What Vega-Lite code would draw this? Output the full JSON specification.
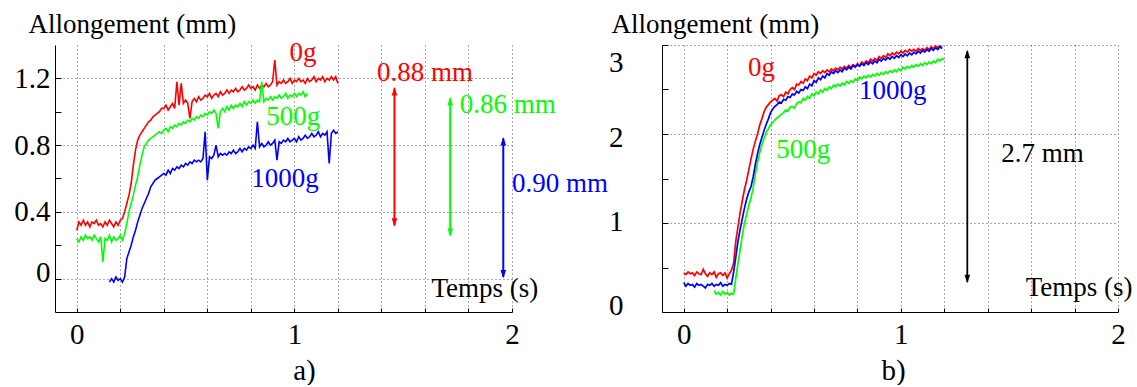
{
  "$schema": "https://vega.github.io/schema/vega-lite/v6.json",
  "autosize": {"type": "pad"},
  "padding": {"left": 13, "top": 10, "right": 0, "bottom": 0},
  "bounds": "flush",
  "spacing": 150,
  "resolve": {"scale": {"x": "independent", "y": "independent"}},
  "config": {
    "font": "Liberation Serif",
    "view": {"stroke": null},
    "axis": {
      "domainColor": "#000", "domainWidth": 1, "tickColor": "#000", "labelColor": "#000",
      "labelFont": "Liberation Serif", "labelFontSize": 29, "gridColor": "#555", "gridDash": [1, 3],
      "titleFont": "Liberation Serif", "titleFontWeight": "normal", "titleColor": "#000",
      "labelFlush": false, "labelOverlap": false, "labelBound": false
    },
    "text": {"font": "Liberation Serif", "fontSize": 27}
  },
  "datasets": {
    "ca": [
      {"s":"0g","t":0.00,"v":0.29},{"s":"0g","t":0.01,"v":0.34},{"s":"0g","t":0.02,"v":0.32},{"s":"0g","t":0.03,"v":0.35},{"s":"0g","t":0.04,"v":0.32},{"s":"0g","t":0.05,"v":0.34},{"s":"0g","t":0.06,"v":0.31},{"s":"0g","t":0.07,"v":0.34},{"s":"0g","t":0.08,"v":0.33},{"s":"0g","t":0.09,"v":0.35},{"s":"0g","t":0.10,"v":0.32},{"s":"0g","t":0.11,"v":0.33},{"s":"0g","t":0.12,"v":0.31},{"s":"0g","t":0.13,"v":0.34},{"s":"0g","t":0.14,"v":0.32},{"s":"0g","t":0.15,"v":0.35},{"s":"0g","t":0.16,"v":0.33},{"s":"0g","t":0.17,"v":0.31},{"s":"0g","t":0.18,"v":0.34},{"s":"0g","t":0.19,"v":0.32},{"s":"0g","t":0.20,"v":0.35},
      {"s":"0g","t":0.21,"v":0.36},{"s":"0g","t":0.22,"v":0.40},{"s":"0g","t":0.23,"v":0.45},{"s":"0g","t":0.24,"v":0.50},{"s":"0g","t":0.25,"v":0.57},{"s":"0g","t":0.26,"v":0.68},{"s":"0g","t":0.27,"v":0.77},{"s":"0g","t":0.28,"v":0.83},{"s":"0g","t":0.29,"v":0.86},{"s":"0g","t":0.30,"v":0.88},{"s":"0g","t":0.31,"v":0.90},{"s":"0g","t":0.32,"v":0.92},{"s":"0g","t":0.33,"v":0.94},{"s":"0g","t":0.34,"v":0.95},{"s":"0g","t":0.35,"v":0.97},{"s":"0g","t":0.36,"v":0.98},{"s":"0g","t":0.37,"v":0.99},{"s":"0g","t":0.38,"v":1.00},{"s":"0g","t":0.39,"v":1.02},{"s":"0g","t":0.40,"v":1.02},
      {"s":"0g","t":0.41,"v":1.04},{"s":"0g","t":0.42,"v":1.01},{"s":"0g","t":0.43,"v":1.03},{"s":"0g","t":0.44,"v":1.05},{"s":"0g","t":0.45,"v":1.02},{"s":"0g","t":0.46,"v":1.18},{"s":"0g","t":0.47,"v":1.04},{"s":"0g","t":0.48,"v":1.17},{"s":"0g","t":0.49,"v":1.05},{"s":"0g","t":0.50,"v":1.07},{"s":"0g","t":0.51,"v":1.05},{"s":"0g","t":0.52,"v":0.96},{"s":"0g","t":0.53,"v":1.06},{"s":"0g","t":0.54,"v":1.08},{"s":"0g","t":0.55,"v":1.06},{"s":"0g","t":0.56,"v":1.09},{"s":"0g","t":0.57,"v":1.07},{"s":"0g","t":0.58,"v":1.08},{"s":"0g","t":0.59,"v":1.10},{"s":"0g","t":0.60,"v":1.09},
      {"s":"0g","t":0.61,"v":1.11},{"s":"0g","t":0.62,"v":1.08},{"s":"0g","t":0.63,"v":1.10},{"s":"0g","t":0.64,"v":1.11},{"s":"0g","t":0.65,"v":1.09},{"s":"0g","t":0.66,"v":1.12},{"s":"0g","t":0.67,"v":1.10},{"s":"0g","t":0.68,"v":1.11},{"s":"0g","t":0.69,"v":1.13},{"s":"0g","t":0.70,"v":1.11},{"s":"0g","t":0.71,"v":1.13},{"s":"0g","t":0.72,"v":1.12},{"s":"0g","t":0.73,"v":1.14},{"s":"0g","t":0.74,"v":1.12},{"s":"0g","t":0.75,"v":1.13},{"s":"0g","t":0.76,"v":1.15},{"s":"0g","t":0.77,"v":1.13},{"s":"0g","t":0.78,"v":1.14},{"s":"0g","t":0.79,"v":1.16},{"s":"0g","t":0.80,"v":1.14},
      {"s":"0g","t":0.81,"v":1.15},{"s":"0g","t":0.82,"v":1.13},{"s":"0g","t":0.83,"v":1.16},{"s":"0g","t":0.84,"v":1.14},{"s":"0g","t":0.85,"v":1.16},{"s":"0g","t":0.86,"v":1.15},{"s":"0g","t":0.87,"v":1.17},{"s":"0g","t":0.88,"v":1.15},{"s":"0g","t":0.89,"v":1.16},{"s":"0g","t":0.90,"v":1.18},{"s":"0g","t":0.91,"v":1.31},{"s":"0g","t":0.92,"v":1.16},{"s":"0g","t":0.93,"v":1.18},{"s":"0g","t":0.94,"v":1.17},{"s":"0g","t":0.95,"v":1.19},{"s":"0g","t":0.96,"v":1.17},{"s":"0g","t":0.97,"v":1.18},{"s":"0g","t":0.98,"v":1.20},{"s":"0g","t":0.99,"v":1.17},{"s":"0g","t":1.00,"v":1.19},
      {"s":"0g","t":1.01,"v":1.18},{"s":"0g","t":1.02,"v":1.20},{"s":"0g","t":1.03,"v":1.18},{"s":"0g","t":1.04,"v":1.19},{"s":"0g","t":1.05,"v":1.17},{"s":"0g","t":1.06,"v":1.20},{"s":"0g","t":1.07,"v":1.18},{"s":"0g","t":1.08,"v":1.19},{"s":"0g","t":1.09,"v":1.21},{"s":"0g","t":1.10,"v":1.18},{"s":"0g","t":1.11,"v":1.20},{"s":"0g","t":1.12,"v":1.19},{"s":"0g","t":1.13,"v":1.21},{"s":"0g","t":1.14,"v":1.18},{"s":"0g","t":1.15,"v":1.20},{"s":"0g","t":1.16,"v":1.19},{"s":"0g","t":1.17,"v":1.21},{"s":"0g","t":1.18,"v":1.19},{"s":"0g","t":1.19,"v":1.21},{"s":"0g","t":1.20,"v":1.17},

      {"s":"500g","t":0.00,"v":0.24},{"s":"500g","t":0.01,"v":0.22},{"s":"500g","t":0.02,"v":0.25},{"s":"500g","t":0.03,"v":0.23},{"s":"500g","t":0.04,"v":0.26},{"s":"500g","t":0.05,"v":0.24},{"s":"500g","t":0.06,"v":0.25},{"s":"500g","t":0.07,"v":0.23},{"s":"500g","t":0.08,"v":0.26},{"s":"500g","t":0.09,"v":0.24},{"s":"500g","t":0.10,"v":0.22},{"s":"500g","t":0.11,"v":0.25},{"s":"500g","t":0.12,"v":0.10},{"s":"500g","t":0.13,"v":0.24},{"s":"500g","t":0.14,"v":0.23},{"s":"500g","t":0.15,"v":0.26},{"s":"500g","t":0.16,"v":0.22},{"s":"500g","t":0.17,"v":0.25},{"s":"500g","t":0.18,"v":0.23},{"s":"500g","t":0.19,"v":0.24},{"s":"500g","t":0.20,"v":0.26},
      {"s":"500g","t":0.21,"v":0.23},{"s":"500g","t":0.22,"v":0.27},{"s":"500g","t":0.23,"v":0.33},{"s":"500g","t":0.24,"v":0.40},{"s":"500g","t":0.25,"v":0.45},{"s":"500g","t":0.26,"v":0.50},{"s":"500g","t":0.27,"v":0.56},{"s":"500g","t":0.28,"v":0.61},{"s":"500g","t":0.29,"v":0.68},{"s":"500g","t":0.30,"v":0.74},{"s":"500g","t":0.31,"v":0.79},{"s":"500g","t":0.32,"v":0.81},{"s":"500g","t":0.33,"v":0.83},{"s":"500g","t":0.34,"v":0.84},{"s":"500g","t":0.35,"v":0.85},{"s":"500g","t":0.36,"v":0.86},{"s":"500g","t":0.37,"v":0.87},{"s":"500g","t":0.38,"v":0.88},{"s":"500g","t":0.39,"v":0.87},{"s":"500g","t":0.40,"v":0.89},
      {"s":"500g","t":0.41,"v":0.90},{"s":"500g","t":0.42,"v":0.88},{"s":"500g","t":0.43,"v":0.91},{"s":"500g","t":0.44,"v":0.90},{"s":"500g","t":0.45,"v":0.92},{"s":"500g","t":0.46,"v":0.91},{"s":"500g","t":0.47,"v":0.93},{"s":"500g","t":0.48,"v":0.92},{"s":"500g","t":0.49,"v":0.94},{"s":"500g","t":0.50,"v":0.93},{"s":"500g","t":0.51,"v":0.95},{"s":"500g","t":0.52,"v":0.94},{"s":"500g","t":0.53,"v":0.96},{"s":"500g","t":0.54,"v":0.95},{"s":"500g","t":0.55,"v":0.97},{"s":"500g","t":0.56,"v":0.96},{"s":"500g","t":0.57,"v":0.98},{"s":"500g","t":0.58,"v":0.97},{"s":"500g","t":0.59,"v":0.99},{"s":"500g","t":0.60,"v":0.98},
      {"s":"500g","t":0.61,"v":1.00},{"s":"500g","t":0.62,"v":0.99},{"s":"500g","t":0.63,"v":1.01},{"s":"500g","t":0.64,"v":0.99},{"s":"500g","t":0.65,"v":0.90},{"s":"500g","t":0.66,"v":1.00},{"s":"500g","t":0.67,"v":1.02},{"s":"500g","t":0.68,"v":1.00},{"s":"500g","t":0.69,"v":1.03},{"s":"500g","t":0.70,"v":1.01},{"s":"500g","t":0.71,"v":1.04},{"s":"500g","t":0.72,"v":1.02},{"s":"500g","t":0.73,"v":1.04},{"s":"500g","t":0.74,"v":1.03},{"s":"500g","t":0.75,"v":1.05},{"s":"500g","t":0.76,"v":1.03},{"s":"500g","t":0.77,"v":1.06},{"s":"500g","t":0.78,"v":1.04},{"s":"500g","t":0.79,"v":1.06},{"s":"500g","t":0.80,"v":1.05},
      {"s":"500g","t":0.81,"v":1.07},{"s":"500g","t":0.82,"v":1.05},{"s":"500g","t":0.83,"v":1.07},{"s":"500g","t":0.84,"v":1.06},{"s":"500g","t":0.85,"v":1.18},{"s":"500g","t":0.86,"v":1.06},{"s":"500g","t":0.87,"v":1.08},{"s":"500g","t":0.88,"v":1.07},{"s":"500g","t":0.89,"v":1.09},{"s":"500g","t":0.90,"v":1.07},{"s":"500g","t":0.91,"v":1.09},{"s":"500g","t":0.92,"v":1.08},{"s":"500g","t":0.93,"v":1.10},{"s":"500g","t":0.94,"v":1.08},{"s":"500g","t":0.95,"v":1.09},{"s":"500g","t":0.96,"v":1.11},{"s":"500g","t":0.97,"v":1.08},{"s":"500g","t":0.98,"v":1.10},{"s":"500g","t":0.99,"v":1.09},{"s":"500g","t":1.00,"v":1.11},
      {"s":"500g","t":1.01,"v":1.09},{"s":"500g","t":1.02,"v":1.11},{"s":"500g","t":1.03,"v":1.10},{"s":"500g","t":1.04,"v":1.12},{"s":"500g","t":1.05,"v":1.09},{"s":"500g","t":1.06,"v":1.11},

      {"s":"1000g","t":0.15,"v":-0.02},{"s":"1000g","t":0.16,"v":0.00},{"s":"1000g","t":0.17,"v":-0.02},{"s":"1000g","t":0.18,"v":0.01},{"s":"1000g","t":0.19,"v":-0.01},{"s":"1000g","t":0.20,"v":0.00},{"s":"1000g","t":0.21,"v":-0.02},{"s":"1000g","t":0.22,"v":0.01},{"s":"1000g","t":0.23,"v":0.12},{"s":"1000g","t":0.24,"v":0.16},{"s":"1000g","t":0.25,"v":0.20},{"s":"1000g","t":0.26,"v":0.25},{"s":"1000g","t":0.27,"v":0.29},{"s":"1000g","t":0.28,"v":0.34},{"s":"1000g","t":0.29,"v":0.38},{"s":"1000g","t":0.30,"v":0.42},{"s":"1000g","t":0.31,"v":0.45},{"s":"1000g","t":0.32,"v":0.48},{"s":"1000g","t":0.33,"v":0.51},{"s":"1000g","t":0.34,"v":0.55},{"s":"1000g","t":0.35,"v":0.57},{"s":"1000g","t":0.36,"v":0.59},{"s":"1000g","t":0.37,"v":0.60},{"s":"1000g","t":0.38,"v":0.61},{"s":"1000g","t":0.39,"v":0.62},{"s":"1000g","t":0.40,"v":0.63},
      {"s":"1000g","t":0.41,"v":0.62},{"s":"1000g","t":0.42,"v":0.65},{"s":"1000g","t":0.43,"v":0.63},{"s":"1000g","t":0.44,"v":0.66},{"s":"1000g","t":0.45,"v":0.65},{"s":"1000g","t":0.46,"v":0.67},{"s":"1000g","t":0.47,"v":0.66},{"s":"1000g","t":0.48,"v":0.68},{"s":"1000g","t":0.49,"v":0.67},{"s":"1000g","t":0.50,"v":0.69},{"s":"1000g","t":0.51,"v":0.68},{"s":"1000g","t":0.52,"v":0.70},{"s":"1000g","t":0.53,"v":0.69},{"s":"1000g","t":0.54,"v":0.71},{"s":"1000g","t":0.55,"v":0.70},{"s":"1000g","t":0.56,"v":0.71},{"s":"1000g","t":0.57,"v":0.70},{"s":"1000g","t":0.58,"v":0.72},{"s":"1000g","t":0.59,"v":0.88},{"s":"1000g","t":0.60,"v":0.59},
      {"s":"1000g","t":0.61,"v":0.73},{"s":"1000g","t":0.62,"v":0.72},{"s":"1000g","t":0.63,"v":0.74},{"s":"1000g","t":0.64,"v":0.80},{"s":"1000g","t":0.65,"v":0.73},{"s":"1000g","t":0.66,"v":0.75},{"s":"1000g","t":0.67,"v":0.74},{"s":"1000g","t":0.68,"v":0.75},{"s":"1000g","t":0.69,"v":0.74},{"s":"1000g","t":0.70,"v":0.76},{"s":"1000g","t":0.71,"v":0.75},{"s":"1000g","t":0.72,"v":0.77},{"s":"1000g","t":0.73,"v":0.75},{"s":"1000g","t":0.74,"v":0.76},{"s":"1000g","t":0.75,"v":0.78},{"s":"1000g","t":0.76,"v":0.76},{"s":"1000g","t":0.77,"v":0.78},{"s":"1000g","t":0.78,"v":0.77},{"s":"1000g","t":0.79,"v":0.79},{"s":"1000g","t":0.80,"v":0.78},
      {"s":"1000g","t":0.81,"v":0.80},{"s":"1000g","t":0.82,"v":0.78},{"s":"1000g","t":0.83,"v":0.94},{"s":"1000g","t":0.84,"v":0.79},{"s":"1000g","t":0.85,"v":0.81},{"s":"1000g","t":0.86,"v":0.79},{"s":"1000g","t":0.87,"v":0.80},{"s":"1000g","t":0.88,"v":0.82},{"s":"1000g","t":0.89,"v":0.80},{"s":"1000g","t":0.90,"v":0.81},{"s":"1000g","t":0.91,"v":0.83},{"s":"1000g","t":0.92,"v":0.71},{"s":"1000g","t":0.93,"v":0.82},{"s":"1000g","t":0.94,"v":0.81},{"s":"1000g","t":0.95,"v":0.83},{"s":"1000g","t":0.96,"v":0.82},{"s":"1000g","t":0.97,"v":0.84},{"s":"1000g","t":0.98,"v":0.82},{"s":"1000g","t":0.99,"v":0.83},{"s":"1000g","t":1.00,"v":0.84},
      {"s":"1000g","t":1.01,"v":0.82},{"s":"1000g","t":1.02,"v":0.85},{"s":"1000g","t":1.03,"v":0.83},{"s":"1000g","t":1.04,"v":0.84},{"s":"1000g","t":1.05,"v":0.86},{"s":"1000g","t":1.06,"v":0.84},{"s":"1000g","t":1.07,"v":0.85},{"s":"1000g","t":1.08,"v":0.87},{"s":"1000g","t":1.09,"v":0.85},{"s":"1000g","t":1.10,"v":0.86},{"s":"1000g","t":1.11,"v":0.88},{"s":"1000g","t":1.12,"v":0.85},{"s":"1000g","t":1.13,"v":0.87},{"s":"1000g","t":1.14,"v":0.86},{"s":"1000g","t":1.15,"v":0.88},{"s":"1000g","t":1.16,"v":0.69},{"s":"1000g","t":1.17,"v":0.87},{"s":"1000g","t":1.18,"v":0.89},{"s":"1000g","t":1.19,"v":0.87},{"s":"1000g","t":1.20,"v":0.88}
    ],
    "la": [
      {"s":"0g","t":1.04,"v":1.35,"label":"0g"},
      {"s":"500g","t":0.995,"v":0.97,"label":"500g"},
      {"s":"1000g","t":0.957,"v":0.60,"label":"1000g"},
      {"s":"0g","t":1.60,"v":1.23,"label":"0.88 mm"},
      {"s":"500g","t":1.98,"v":1.04,"label":"0.86 mm"},
      {"s":"1000g","t":2.22,"v":0.57,"label":"0.90 mm"},
      {"s":"ref","t":1.875,"v":-0.06,"label":"Temps (s)"}
    ],
    "aa": [
      {"s":"0g","t":1.46,"top":1.14,"bot":0.32},
      {"s":"500g","t":1.716,"top":1.08,"bot":0.26},
      {"s":"1000g","t":1.96,"top":0.84,"bot":0.01}
    ],
    "cb": [
      {"s":"0g","t":0.00,"v":0.44},{"s":"0g","t":0.01,"v":0.42},{"s":"0g","t":0.02,"v":0.45},{"s":"0g","t":0.03,"v":0.43},{"s":"0g","t":0.04,"v":0.44},{"s":"0g","t":0.05,"v":0.41},{"s":"0g","t":0.06,"v":0.45},{"s":"0g","t":0.07,"v":0.43},{"s":"0g","t":0.08,"v":0.42},{"s":"0g","t":0.09,"v":0.48},{"s":"0g","t":0.10,"v":0.43},{"s":"0g","t":0.11,"v":0.40},{"s":"0g","t":0.12,"v":0.44},{"s":"0g","t":0.13,"v":0.42},{"s":"0g","t":0.14,"v":0.45},{"s":"0g","t":0.15,"v":0.39},{"s":"0g","t":0.16,"v":0.43},{"s":"0g","t":0.17,"v":0.44},{"s":"0g","t":0.18,"v":0.41},{"s":"0g","t":0.19,"v":0.44},{"s":"0g","t":0.20,"v":0.38},{"s":"0g","t":0.21,"v":0.43},
      {"s":"0g","t":0.22,"v":0.47},{"s":"0g","t":0.23,"v":0.55},{"s":"0g","t":0.24,"v":0.80},{"s":"0g","t":0.25,"v":0.96},{"s":"0g","t":0.26,"v":1.12},{"s":"0g","t":0.27,"v":1.25},{"s":"0g","t":0.28,"v":1.38},{"s":"0g","t":0.29,"v":1.48},{"s":"0g","t":0.30,"v":1.60},{"s":"0g","t":0.31,"v":1.72},{"s":"0g","t":0.32,"v":1.83},{"s":"0g","t":0.33,"v":1.92},{"s":"0g","t":0.34,"v":2.00},{"s":"0g","t":0.35,"v":2.10},{"s":"0g","t":0.36,"v":2.17},{"s":"0g","t":0.37,"v":2.25},{"s":"0g","t":0.38,"v":2.30},{"s":"0g","t":0.39,"v":2.33},{"s":"0g","t":0.40,"v":2.36},
      {"s":"0g","t":0.41,"v":2.38},{"s":"0g","t":0.42,"v":2.40},{"s":"0g","t":0.43,"v":2.37},{"s":"0g","t":0.44,"v":2.43},{"s":"0g","t":0.45,"v":2.44},{"s":"0g","t":0.46,"v":2.42},{"s":"0g","t":0.47,"v":2.47},{"s":"0g","t":0.48,"v":2.45},{"s":"0g","t":0.49,"v":2.50},{"s":"0g","t":0.50,"v":2.52},{"s":"0g","t":0.51,"v":2.50},{"s":"0g","t":0.52,"v":2.56},{"s":"0g","t":0.53,"v":2.55},{"s":"0g","t":0.54,"v":2.59},{"s":"0g","t":0.55,"v":2.57},{"s":"0g","t":0.56,"v":2.62},{"s":"0g","t":0.57,"v":2.60},{"s":"0g","t":0.58,"v":2.65},{"s":"0g","t":0.59,"v":2.63},{"s":"0g","t":0.60,"v":2.68},
      {"s":"0g","t":0.61,"v":2.66},{"s":"0g","t":0.62,"v":2.70},{"s":"0g","t":0.63,"v":2.68},{"s":"0g","t":0.64,"v":2.71},{"s":"0g","t":0.65,"v":2.69},{"s":"0g","t":0.66,"v":2.72},{"s":"0g","t":0.67,"v":2.70},{"s":"0g","t":0.68,"v":2.73},{"s":"0g","t":0.69,"v":2.71},{"s":"0g","t":0.70,"v":2.74},{"s":"0g","t":0.71,"v":2.72},{"s":"0g","t":0.72,"v":2.75},{"s":"0g","t":0.73,"v":2.73},{"s":"0g","t":0.74,"v":2.76},{"s":"0g","t":0.75,"v":2.74},{"s":"0g","t":0.76,"v":2.77},{"s":"0g","t":0.77,"v":2.75},{"s":"0g","t":0.78,"v":2.78},{"s":"0g","t":0.79,"v":2.76},{"s":"0g","t":0.80,"v":2.79},
      {"s":"0g","t":0.81,"v":2.77},{"s":"0g","t":0.82,"v":2.81},{"s":"0g","t":0.83,"v":2.79},{"s":"0g","t":0.84,"v":2.82},{"s":"0g","t":0.85,"v":2.80},{"s":"0g","t":0.86,"v":2.84},{"s":"0g","t":0.87,"v":2.82},{"s":"0g","t":0.88,"v":2.85},{"s":"0g","t":0.89,"v":2.83},{"s":"0g","t":0.90,"v":2.87},{"s":"0g","t":0.91,"v":2.85},{"s":"0g","t":0.92,"v":2.88},{"s":"0g","t":0.93,"v":2.86},{"s":"0g","t":0.94,"v":2.90},{"s":"0g","t":0.95,"v":2.88},{"s":"0g","t":0.96,"v":2.91},{"s":"0g","t":0.97,"v":2.89},{"s":"0g","t":0.98,"v":2.92},{"s":"0g","t":0.99,"v":2.90},{"s":"0g","t":1.00,"v":2.93},
      {"s":"0g","t":1.01,"v":2.91},{"s":"0g","t":1.02,"v":2.94},{"s":"0g","t":1.03,"v":2.92},{"s":"0g","t":1.04,"v":2.95},{"s":"0g","t":1.05,"v":2.93},{"s":"0g","t":1.06,"v":2.95},{"s":"0g","t":1.07,"v":2.93},{"s":"0g","t":1.08,"v":2.96},{"s":"0g","t":1.09,"v":2.94},{"s":"0g","t":1.10,"v":2.96},{"s":"0g","t":1.11,"v":2.94},{"s":"0g","t":1.12,"v":2.97},{"s":"0g","t":1.13,"v":2.95},{"s":"0g","t":1.14,"v":2.98},{"s":"0g","t":1.15,"v":2.96},{"s":"0g","t":1.16,"v":2.99},{"s":"0g","t":1.17,"v":2.97},{"s":"0g","t":1.18,"v":2.99},{"s":"0g","t":1.19,"v":2.97},

      {"s":"500g","t":0.14,"v":0.24},{"s":"500g","t":0.15,"v":0.20},{"s":"500g","t":0.16,"v":0.22},{"s":"500g","t":0.17,"v":0.19},{"s":"500g","t":0.18,"v":0.23},{"s":"500g","t":0.19,"v":0.20},{"s":"500g","t":0.20,"v":0.22},{"s":"500g","t":0.21,"v":0.19},{"s":"500g","t":0.22,"v":0.21},{"s":"500g","t":0.23,"v":0.20},{"s":"500g","t":0.24,"v":0.38},{"s":"500g","t":0.25,"v":0.55},{"s":"500g","t":0.26,"v":0.70},{"s":"500g","t":0.27,"v":0.86},{"s":"500g","t":0.28,"v":1.00},{"s":"500g","t":0.29,"v":1.10},{"s":"500g","t":0.30,"v":1.20},{"s":"500g","t":0.31,"v":1.28},{"s":"500g","t":0.32,"v":1.40},{"s":"500g","t":0.33,"v":1.55},{"s":"500g","t":0.34,"v":1.68},{"s":"500g","t":0.35,"v":1.79},{"s":"500g","t":0.36,"v":1.88},{"s":"500g","t":0.37,"v":1.95},{"s":"500g","t":0.38,"v":2.02},{"s":"500g","t":0.39,"v":2.06},{"s":"500g","t":0.40,"v":2.10},{"s":"500g","t":0.41,"v":2.13},{"s":"500g","t":0.42,"v":2.16},{"s":"500g","t":0.43,"v":2.18},{"s":"500g","t":0.44,"v":2.20},{"s":"500g","t":0.45,"v":2.22},
      {"s":"500g","t":0.46,"v":2.24},{"s":"500g","t":0.47,"v":2.27},{"s":"500g","t":0.48,"v":2.26},{"s":"500g","t":0.49,"v":2.30},{"s":"500g","t":0.50,"v":2.31},{"s":"500g","t":0.51,"v":2.29},{"s":"500g","t":0.52,"v":2.34},{"s":"500g","t":0.53,"v":2.36},{"s":"500g","t":0.54,"v":2.35},{"s":"500g","t":0.55,"v":2.40},{"s":"500g","t":0.56,"v":2.38},{"s":"500g","t":0.57,"v":2.42},{"s":"500g","t":0.58,"v":2.40},{"s":"500g","t":0.59,"v":2.45},{"s":"500g","t":0.60,"v":2.43},{"s":"500g","t":0.61,"v":2.47},{"s":"500g","t":0.62,"v":2.45},{"s":"500g","t":0.63,"v":2.49},{"s":"500g","t":0.64,"v":2.47},{"s":"500g","t":0.65,"v":2.51},
      {"s":"500g","t":0.66,"v":2.49},{"s":"500g","t":0.67,"v":2.53},{"s":"500g","t":0.68,"v":2.51},{"s":"500g","t":0.69,"v":2.55},{"s":"500g","t":0.70,"v":2.53},{"s":"500g","t":0.71,"v":2.56},{"s":"500g","t":0.72,"v":2.54},{"s":"500g","t":0.73,"v":2.57},{"s":"500g","t":0.74,"v":2.55},{"s":"500g","t":0.75,"v":2.59},{"s":"500g","t":0.76,"v":2.57},{"s":"500g","t":0.77,"v":2.60},{"s":"500g","t":0.78,"v":2.58},{"s":"500g","t":0.79,"v":2.62},{"s":"500g","t":0.80,"v":2.60},{"s":"500g","t":0.81,"v":2.64},{"s":"500g","t":0.82,"v":2.62},{"s":"500g","t":0.83,"v":2.65},{"s":"500g","t":0.84,"v":2.63},{"s":"500g","t":0.85,"v":2.66},
      {"s":"500g","t":0.86,"v":2.64},{"s":"500g","t":0.87,"v":2.67},{"s":"500g","t":0.88,"v":2.65},{"s":"500g","t":0.89,"v":2.68},{"s":"500g","t":0.90,"v":2.66},{"s":"500g","t":0.91,"v":2.69},{"s":"500g","t":0.92,"v":2.67},{"s":"500g","t":0.93,"v":2.70},{"s":"500g","t":0.94,"v":2.68},{"s":"500g","t":0.95,"v":2.71},{"s":"500g","t":0.96,"v":2.69},{"s":"500g","t":0.97,"v":2.72},{"s":"500g","t":0.98,"v":2.70},{"s":"500g","t":0.99,"v":2.73},{"s":"500g","t":1.00,"v":2.71},{"s":"500g","t":1.01,"v":2.75},{"s":"500g","t":1.02,"v":2.73},{"s":"500g","t":1.03,"v":2.76},{"s":"500g","t":1.04,"v":2.74},{"s":"500g","t":1.05,"v":2.77},
      {"s":"500g","t":1.06,"v":2.75},{"s":"500g","t":1.07,"v":2.78},{"s":"500g","t":1.08,"v":2.76},{"s":"500g","t":1.09,"v":2.79},{"s":"500g","t":1.10,"v":2.77},{"s":"500g","t":1.11,"v":2.80},{"s":"500g","t":1.12,"v":2.78},{"s":"500g","t":1.13,"v":2.81},{"s":"500g","t":1.14,"v":2.79},{"s":"500g","t":1.15,"v":2.82},{"s":"500g","t":1.16,"v":2.80},{"s":"500g","t":1.17,"v":2.84},{"s":"500g","t":1.18,"v":2.82},{"s":"500g","t":1.19,"v":2.85},{"s":"500g","t":1.20,"v":2.83},

      {"s":"1000g","t":0.00,"v":0.33},{"s":"1000g","t":0.01,"v":0.29},{"s":"1000g","t":0.02,"v":0.32},{"s":"1000g","t":0.03,"v":0.30},{"s":"1000g","t":0.04,"v":0.31},{"s":"1000g","t":0.05,"v":0.28},{"s":"1000g","t":0.06,"v":0.32},{"s":"1000g","t":0.07,"v":0.30},{"s":"1000g","t":0.08,"v":0.31},{"s":"1000g","t":0.09,"v":0.29},{"s":"1000g","t":0.10,"v":0.27},{"s":"1000g","t":0.11,"v":0.31},{"s":"1000g","t":0.12,"v":0.30},{"s":"1000g","t":0.13,"v":0.32},{"s":"1000g","t":0.14,"v":0.29},{"s":"1000g","t":0.15,"v":0.31},{"s":"1000g","t":0.16,"v":0.30},{"s":"1000g","t":0.17,"v":0.33},{"s":"1000g","t":0.18,"v":0.29},{"s":"1000g","t":0.19,"v":0.31},{"s":"1000g","t":0.20,"v":0.30},{"s":"1000g","t":0.21,"v":0.32},{"s":"1000g","t":0.22,"v":0.31},
      {"s":"1000g","t":0.23,"v":0.45},{"s":"1000g","t":0.24,"v":0.62},{"s":"1000g","t":0.25,"v":0.80},{"s":"1000g","t":0.26,"v":0.93},{"s":"1000g","t":0.27,"v":1.05},{"s":"1000g","t":0.28,"v":1.17},{"s":"1000g","t":0.29,"v":1.27},{"s":"1000g","t":0.30,"v":1.35},{"s":"1000g","t":0.31,"v":1.41},{"s":"1000g","t":0.32,"v":1.52},{"s":"1000g","t":0.33,"v":1.66},{"s":"1000g","t":0.34,"v":1.78},{"s":"1000g","t":0.35,"v":1.88},{"s":"1000g","t":0.36,"v":1.96},{"s":"1000g","t":0.37,"v":2.04},{"s":"1000g","t":0.38,"v":2.11},{"s":"1000g","t":0.39,"v":2.17},{"s":"1000g","t":0.40,"v":2.24},{"s":"1000g","t":0.41,"v":2.28},{"s":"1000g","t":0.42,"v":2.31},
      {"s":"1000g","t":0.43,"v":2.33},{"s":"1000g","t":0.44,"v":2.36},{"s":"1000g","t":0.45,"v":2.35},{"s":"1000g","t":0.46,"v":2.39},{"s":"1000g","t":0.47,"v":2.38},{"s":"1000g","t":0.48,"v":2.42},{"s":"1000g","t":0.49,"v":2.41},{"s":"1000g","t":0.50,"v":2.45},{"s":"1000g","t":0.51,"v":2.44},{"s":"1000g","t":0.52,"v":2.48},{"s":"1000g","t":0.53,"v":2.46},{"s":"1000g","t":0.54,"v":2.50},{"s":"1000g","t":0.55,"v":2.49},{"s":"1000g","t":0.56,"v":2.53},{"s":"1000g","t":0.57,"v":2.51},{"s":"1000g","t":0.58,"v":2.56},{"s":"1000g","t":0.59,"v":2.54},{"s":"1000g","t":0.60,"v":2.60},{"s":"1000g","t":0.61,"v":2.58},{"s":"1000g","t":0.62,"v":2.63},
      {"s":"1000g","t":0.63,"v":2.61},{"s":"1000g","t":0.64,"v":2.65},{"s":"1000g","t":0.65,"v":2.63},{"s":"1000g","t":0.66,"v":2.68},{"s":"1000g","t":0.67,"v":2.66},{"s":"1000g","t":0.68,"v":2.70},{"s":"1000g","t":0.69,"v":2.68},{"s":"1000g","t":0.70,"v":2.71},{"s":"1000g","t":0.71,"v":2.69},{"s":"1000g","t":0.72,"v":2.72},{"s":"1000g","t":0.73,"v":2.70},{"s":"1000g","t":0.74,"v":2.74},{"s":"1000g","t":0.75,"v":2.72},{"s":"1000g","t":0.76,"v":2.75},{"s":"1000g","t":0.77,"v":2.73},{"s":"1000g","t":0.78,"v":2.77},{"s":"1000g","t":0.79,"v":2.75},{"s":"1000g","t":0.80,"v":2.78},{"s":"1000g","t":0.81,"v":2.76},{"s":"1000g","t":0.82,"v":2.79},
      {"s":"1000g","t":0.83,"v":2.77},{"s":"1000g","t":0.84,"v":2.80},{"s":"1000g","t":0.85,"v":2.78},{"s":"1000g","t":0.86,"v":2.81},{"s":"1000g","t":0.87,"v":2.79},{"s":"1000g","t":0.88,"v":2.82},{"s":"1000g","t":0.89,"v":2.80},{"s":"1000g","t":0.90,"v":2.84},{"s":"1000g","t":0.91,"v":2.82},{"s":"1000g","t":0.92,"v":2.85},{"s":"1000g","t":0.93,"v":2.83},{"s":"1000g","t":0.94,"v":2.86},{"s":"1000g","t":0.95,"v":2.84},{"s":"1000g","t":0.96,"v":2.87},{"s":"1000g","t":0.97,"v":2.85},{"s":"1000g","t":0.98,"v":2.88},{"s":"1000g","t":0.99,"v":2.86},{"s":"1000g","t":1.00,"v":2.89},
      {"s":"1000g","t":1.01,"v":2.87},{"s":"1000g","t":1.02,"v":2.90},{"s":"1000g","t":1.03,"v":2.88},{"s":"1000g","t":1.04,"v":2.91},{"s":"1000g","t":1.05,"v":2.89},{"s":"1000g","t":1.06,"v":2.92},{"s":"1000g","t":1.07,"v":2.90},{"s":"1000g","t":1.08,"v":2.93},{"s":"1000g","t":1.09,"v":2.91},{"s":"1000g","t":1.10,"v":2.94},{"s":"1000g","t":1.11,"v":2.92},{"s":"1000g","t":1.12,"v":2.95},{"s":"1000g","t":1.13,"v":2.93},{"s":"1000g","t":1.14,"v":2.96},{"s":"1000g","t":1.15,"v":2.94},{"s":"1000g","t":1.16,"v":2.97},{"s":"1000g","t":1.17,"v":2.95},{"s":"1000g","t":1.18,"v":2.98},{"s":"1000g","t":1.19,"v":2.96}
    ],
    "lb": [
      {"s":"0g","t":0.358,"v":2.74,"label":"0g"},
      {"s":"1000g","t":0.963,"v":2.48,"label":"1000g"},
      {"s":"500g","t":0.55,"v":1.82,"label":"500g"},
      {"s":"ref","t":1.652,"v":1.78,"label":"2.7 mm"},
      {"s":"ref","t":1.821,"v":0.27,"label":"Temps (s)"}
    ],
    "ab": [
      {"s":"ref","t":1.306,"top":2.93,"bot":0.34}
    ]
  },
  "hconcat": [
    {
      "width": 457,
      "height": 267,
      "layer": [
        {
          "data": {"name": "ca"},
          "mark": {"type": "line", "strokeWidth": 1.6},
          "encoding": {
            "x": {"field": "t", "type": "quantitative",
              "scale": {"domain": [-0.1, 2], "nice": false, "zero": false},
              "axis": {"values": [0,0.2,0.4,0.6,0.8,1,1.2,1.4,1.6,1.8,2], "format": ".1~f",
                "labelExpr": "datum.value == 0 || datum.value == 1 || datum.value == 2 ? datum.label : ''",
                "labelFont": "Liberation Serif", "labelFontSize": 29,
                "tickSize": -4, "labelPadding": 12, "grid": true,
                "title": "a)", "titleFont": "Liberation Serif", "titleFontSize": 29, "titleX": 249, "titleY": 67, "titleBaseline": "alphabetic", "titleAlign": "center", "titleAnchor": null}},
            "y": {"field": "v", "type": "quantitative",
              "scale": {"domain": [-0.2, 1.4], "nice": false, "zero": false},
              "axis": {"values": [0,0.2,0.4,0.6,0.8,1,1.2], "format": ".1~f",
                "labelExpr": "abs(round(datum.value*10)) % 4 == 0 ? datum.label : ''",
                "labelFont": "Liberation Serif", "labelFontSize": 29,
                "gridOpacity": {"condition": {"test": "abs(round(datum.value*10)) % 4 == 0", "value": 1}, "value": 0},
                "labelOffset": {"condition": {"test": "datum.value == 0", "value": -6}, "value": 0},
                "tickSize": -6, "labelPadding": 11, "grid": true,
                "title": "Allongement (mm)", "titleFont": "Liberation Serif", "titleAngle": 0, "titleAlign": "left", "titleBaseline": "alphabetic",
                "titleX": -27, "titleY": -13, "titleFontSize": 27}},
            "color": {"field": "s", "type": "nominal",
              "scale": {"domain": ["0g","500g","1000g","ref"], "range": ["#ff0000","#00ff00","#0000ff","#000000"]},
              "legend": null}
          }
        },
        {
          "data": {"name": "aa"},
          "mark": {"type": "rule", "strokeWidth": 2},
          "encoding": {
            "x": {"field": "t", "type": "quantitative"},
            "y": {"field": "top", "type": "quantitative"},
            "y2": {"field": "bot"},
            "color": {"field": "s", "type": "nominal", "legend": null}
          }
        },
        {
          "data": {"name": "aa"},
          "mark": {"type": "point", "shape": "M0,-0.2L0.4,1L-0.4,1Z", "filled": true, "size": 196, "opacity": 1, "strokeWidth": 0},
          "encoding": {
            "x": {"field": "t", "type": "quantitative"},
            "y": {"field": "top", "type": "quantitative"},
            "color": {"field": "s", "type": "nominal", "legend": null}
          }
        },
        {
          "data": {"name": "aa"},
          "mark": {"type": "point", "shape": "M0,0.2L0.4,-1L-0.4,-1Z", "filled": true, "size": 196, "opacity": 1, "strokeWidth": 0},
          "encoding": {
            "x": {"field": "t", "type": "quantitative"},
            "y": {"field": "bot", "type": "quantitative"},
            "color": {"field": "s", "type": "nominal", "legend": null}
          }
        },
        {
          "data": {"name": "la"},
          "mark": {"type": "text", "align": "center", "baseline": "middle", "font": "Liberation Serif", "fontSize": 27},
          "encoding": {
            "x": {"field": "t", "type": "quantitative"},
            "y": {"field": "v", "type": "quantitative"},
            "text": {"field": "label"},
            "color": {"field": "s", "type": "nominal", "legend": null}
          }
        }
      ]
    },
    {
      "width": 456,
      "height": 267,
      "layer": [
        {
          "data": {"name": "cb"},
          "mark": {"type": "line", "strokeWidth": 1.7},
          "encoding": {
            "x": {"field": "t", "type": "quantitative",
              "scale": {"domain": [-0.1, 2], "nice": false, "zero": false},
              "axis": {"values": [0,0.2,0.4,0.6,0.8,1,1.2,1.4,1.6,1.8,2], "format": ".1~f",
                "labelExpr": "datum.value == 0 || datum.value == 1 || datum.value == 2 ? datum.label : ''",
                "labelFont": "Liberation Serif", "labelFontSize": 29,
                "tickSize": -4, "labelPadding": 12, "grid": true,
                "title": "b)", "titleFont": "Liberation Serif", "titleFontSize": 29, "titleX": 231, "titleY": 67, "titleBaseline": "alphabetic", "titleAlign": "center", "titleAnchor": null}},
            "y": {"field": "v", "type": "quantitative",
              "scale": {"domain": [0, 3], "nice": false, "zero": false},
              "axis": {"values": [0,0.5,1,1.5,2,2.5,3], "format": ".1~f",
                "labelExpr": "datum.value % 1 == 0 ? datum.label : ''",
                "labelFont": "Liberation Serif", "labelFontSize": 29,
                "gridOpacity": {"condition": {"test": "datum.value % 1 == 0", "value": 1}, "value": 0},
                "labelOffset": {"condition": [{"test": "datum.value == 3", "value": 17}, {"test": "datum.value == 2", "value": 3}, {"test": "datum.value == 1", "value": -2}, {"test": "datum.value == 0", "value": -7}], "value": 0},
                "tickSize": -6, "labelPadding": 45, "grid": true,
                "title": "Allongement (mm)", "titleFont": "Liberation Serif", "titleAngle": 0, "titleAlign": "left", "titleBaseline": "alphabetic",
                "titleX": -51, "titleY": -13, "titleFontSize": 27}},
            "color": {"field": "s", "type": "nominal",
              "scale": {"domain": ["0g","500g","1000g","ref"], "range": ["#ff0000","#00ff00","#0000ff","#000000"]},
              "legend": null}
          }
        },
        {
          "data": {"name": "ab"},
          "mark": {"type": "rule", "strokeWidth": 1.8},
          "encoding": {
            "x": {"field": "t", "type": "quantitative"},
            "y": {"field": "top", "type": "quantitative"},
            "y2": {"field": "bot"},
            "color": {"field": "s", "type": "nominal", "legend": null}
          }
        },
        {
          "data": {"name": "ab"},
          "mark": {"type": "point", "shape": "M0,-0.2L0.4,1L-0.4,1Z", "filled": true, "size": 196, "opacity": 1, "strokeWidth": 0},
          "encoding": {
            "x": {"field": "t", "type": "quantitative"},
            "y": {"field": "top", "type": "quantitative"},
            "color": {"field": "s", "type": "nominal", "legend": null}
          }
        },
        {
          "data": {"name": "ab"},
          "mark": {"type": "point", "shape": "M0,0.2L0.4,-1L-0.4,-1Z", "filled": true, "size": 196, "opacity": 1, "strokeWidth": 0},
          "encoding": {
            "x": {"field": "t", "type": "quantitative"},
            "y": {"field": "bot", "type": "quantitative"},
            "color": {"field": "s", "type": "nominal", "legend": null}
          }
        },
        {
          "data": {"name": "lb"},
          "mark": {"type": "text", "align": "center", "baseline": "middle", "font": "Liberation Serif", "fontSize": 27},
          "encoding": {
            "x": {"field": "t", "type": "quantitative"},
            "y": {"field": "v", "type": "quantitative"},
            "text": {"field": "label"},
            "color": {"field": "s", "type": "nominal", "legend": null}
          }
        }
      ]
    }
  ]
}
